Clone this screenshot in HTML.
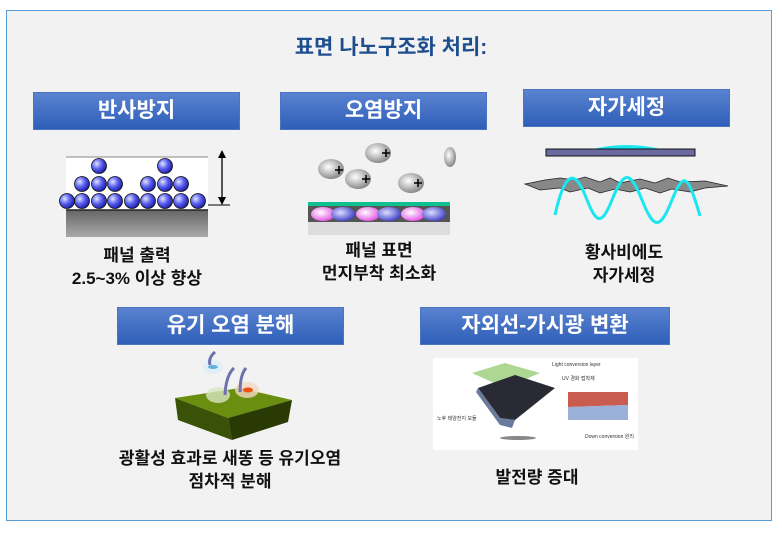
<!DOCTYPE html>
<html><head><meta charset="utf-8"><style>
body{margin:0;width:782px;height:533px;background:#fff;position:relative;overflow:hidden;font-family:"Liberation Sans","Noto Sans CJK KR",sans-serif;}
.frame{position:absolute;left:6px;top:10px;width:766px;height:511px;background:#f2f2f2;border:1px solid #5b9bd5;box-sizing:border-box;}
.t{position:absolute;text-align:center;white-space:nowrap;}
.title{left:0;width:782px;top:31px;font-size:21px;font-weight:bold;color:#1f4e8f;}
.hd{position:absolute;background:linear-gradient(#5a83d0,#2e5fb8);color:#fff;font-size:21px;font-weight:bold;text-align:center;border:1px solid #4a74c0;box-sizing:border-box;}
.lb{font-size:17px;color:#111;line-height:23px;font-weight:bold;}
</style></head><body>
<div class="frame"></div>
<div class="t title">표면 나노구조화 처리:</div>

<div class="hd" style="left:33px;top:92px;width:207px;height:38px;line-height:36px;">반사방지</div>
<div class="hd" style="left:280px;top:92px;width:207px;height:38px;line-height:36px;">오염방지</div>
<div class="hd" style="left:523px;top:89px;width:207px;height:38px;line-height:36px;">자가세정</div>
<div class="hd" style="left:117px;top:307px;width:227px;height:38px;line-height:36px;">유기 오염 분해</div>
<div class="hd" style="left:420px;top:307px;width:250px;height:38px;line-height:36px;">자외선-가시광 변환</div>

<svg style="position:absolute;left:0;top:0" width="782" height="533">
<defs>
<radialGradient id="bb" cx="0.35" cy="0.35" r="0.7"><stop offset="0" stop-color="#e0e4ff"/><stop offset="0.5" stop-color="#5a5ff0"/><stop offset="1" stop-color="#1a1aa0"/></radialGradient>
<radialGradient id="gb" cx="0.4" cy="0.4" r="0.7"><stop offset="0" stop-color="#fff"/><stop offset="1" stop-color="#777"/></radialGradient>
<radialGradient id="pb" cx="0.4" cy="0.4" r="0.7"><stop offset="0" stop-color="#fff"/><stop offset="1" stop-color="#e040e0"/></radialGradient>
<radialGradient id="bl" cx="0.4" cy="0.4" r="0.7"><stop offset="0" stop-color="#ddf"/><stop offset="1" stop-color="#3030c0"/></radialGradient>
<linearGradient id="gr" x1="0" y1="0" x2="0" y2="1"><stop offset="0" stop-color="#666"/><stop offset="1" stop-color="#aaa"/></linearGradient>
</defs>
<rect x="66" y="157" width="142" height="80" fill="#fff"/>
<rect x="66" y="210" width="142" height="27" fill="url(#gr)"/>
<line x1="66" y1="210" x2="208" y2="210" stroke="#222" stroke-width="1.5"/>
<line x1="66" y1="157" x2="208" y2="157" stroke="#888"/>
<g fill="url(#bb)" stroke="#111" stroke-width="0.8">
<circle cx="67" cy="201" r="7.5"/><circle cx="82" cy="201" r="7.5"/><circle cx="99" cy="201" r="7.5"/><circle cx="115" cy="201" r="7.5"/><circle cx="132" cy="201" r="7.5"/><circle cx="148" cy="201" r="7.5"/><circle cx="165" cy="201" r="7.5"/><circle cx="181" cy="201" r="7.5"/><circle cx="198" cy="201" r="7.5"/>
<circle cx="82" cy="184" r="7.5"/><circle cx="99" cy="184" r="7.5"/><circle cx="115" cy="184" r="7.5"/><circle cx="148" cy="184" r="7.5"/><circle cx="165" cy="184" r="7.5"/><circle cx="181" cy="184" r="7.5"/>
<circle cx="99" cy="166" r="7.5"/><circle cx="165" cy="166" r="7.5"/>
</g>
<line x1="208" y1="205" x2="230" y2="205" stroke="#000"/>
<line x1="222" y1="153" x2="222" y2="202" stroke="#000" stroke-width="1.3"/>
<polygon points="222,150 218,158 226,158" fill="#000"/><polygon points="222,205 218,197 226,197" fill="#000"/>
<g fill="url(#gb)">
<ellipse cx="331" cy="169" rx="13" ry="10"/><ellipse cx="358" cy="179" rx="13" ry="10"/><ellipse cx="378" cy="153" rx="13" ry="10"/><ellipse cx="411" cy="183" rx="13" ry="10"/><ellipse cx="450" cy="157" rx="6" ry="10"/>
</g>
<g stroke="#000" stroke-width="1.5"><path d="M335 170h8M339 166v8M362 179h8M366 175v8M382 153h8M386 149v8M414 183h8M418 179v8"/></g>
<rect x="308" y="202" width="142" height="4" fill="#10c090"/>
<rect x="308" y="206" width="142" height="16" fill="#555"/>
<g><ellipse cx="323" cy="214" rx="12" ry="7" fill="url(#pb)"/><ellipse cx="343" cy="214" rx="12" ry="7" fill="url(#bl)"/><ellipse cx="368" cy="214" rx="12" ry="7" fill="url(#pb)"/><ellipse cx="389" cy="214" rx="12" ry="7" fill="url(#bl)"/><ellipse cx="413" cy="214" rx="12" ry="7" fill="url(#pb)"/><ellipse cx="434" cy="214" rx="12" ry="7" fill="url(#bl)"/></g>
<rect x="308" y="222" width="142" height="13" fill="#ddd"/>
<path d="M590 150 Q625 140 665 150Z" fill="#19e6f0"/>
<rect x="546" y="149" width="149" height="7" fill="#6a6aa0" stroke="#111"/>
<path d="M525 184 L545 180 L560 178 L575 180 L585 177 L600 182 L610 178 L620 183 L640 179 L655 183 L668 178 L680 182 L705 181 L728 186 L705 188 L690 192 L672 189 L660 193 L645 188 L630 192 L615 189 L600 193 L588 188 L570 192 L560 188 L540 190Z" fill="#888" stroke="#222" stroke-width="0.8"/>
<path d="M555 215 C565 170 575 170 585 195 S600 230 612 200 S630 170 642 200 S660 230 672 200 S688 175 700 216" fill="none" stroke="#19e6f0" stroke-width="3"/>
<polygon points="175,398 240,388 292,400 228,418" fill="#6a8e10"/>
<polygon points="175,398 228,418 232,440 178,420" fill="#3a5208"/>
<polygon points="228,418 292,400 288,422 232,440" fill="#2a3a04"/>
<ellipse cx="218" cy="395" rx="12" ry="8" fill="#d8e6c0" opacity="0.8"/>
<ellipse cx="247" cy="390" rx="12" ry="8" fill="#f0d8c0" opacity="0.8"/><ellipse cx="248" cy="390" rx="5" ry="2.5" fill="#f05010"/>
<ellipse cx="213" cy="367" rx="10" ry="7" fill="#e0eef8"/><ellipse cx="213" cy="367" rx="5" ry="2" fill="#60b0e0"/>
<path d="M210 365 Q208 358 215 352 M225 395 Q226 375 234 368 M240 392 Q240 375 246 368" fill="none" stroke="#7070b0" stroke-width="3"/>
<rect x="433" y="358" width="205" height="92" fill="#fff"/>
<polygon points="472,373 505,363 540,373 505,388" fill="#a0d080" opacity="0.85"/>
<polygon points="478,388 515,375 555,388 515,420 500,418" fill="#2a2a35"/>
<polygon points="478,388 500,418 515,420 512,428 500,425 476,392" fill="#6a7a9a"/>
<ellipse cx="518" cy="438" rx="18" ry="2" fill="#888"/>
<polygon points="568,392 628,392 628,405 568,407" fill="#c04030" opacity="0.85"/>
<polygon points="568,407 628,405 628,420 568,420" fill="#9ab0d8"/>
<g font-family="Liberation Sans,Noto Sans CJK KR,sans-serif" font-size="5" fill="#333">
<text x="552" y="366">Light conversion layer</text><text x="562" y="380">UV 경화 접착제</text><text x="437" y="420">노후 태양전지 모듈</text><text x="585" y="438">Down conversion 원리</text></g>
</svg>

<div class="t lb" style="left:37px;width:200px;top:244px;">패널 출력<br>2.5~3% 이상 향상</div>
<div class="t lb" style="left:279px;width:200px;top:239px;">패널 표면<br>먼지부착 최소화</div>
<div class="t lb" style="left:524px;width:200px;top:241px;">황사비에도<br>자가세정</div>
<div class="t lb" style="left:80px;width:300px;top:447px;">광활성 효과로 새똥 등 유기오염<br>점차적 분해</div>
<div class="t lb" style="left:437px;width:200px;top:466px;">발전량 증대</div>
</body></html>
